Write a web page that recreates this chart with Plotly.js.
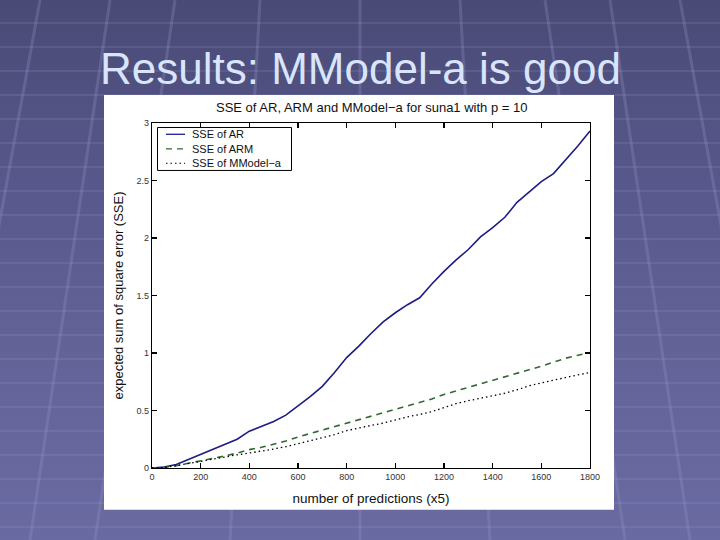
<!DOCTYPE html>
<html>
<head>
<meta charset="utf-8">
<script src="https://cdn.plot.ly/plotly-3.0.1.min.js"></script>
<style>
  html, body { margin: 0; padding: 0; }
  body {
    width: 720px; height: 540px; overflow: hidden;
    background-image:
      url("data:image/svg+xml;utf8,<svg xmlns='http://www.w3.org/2000/svg' width='720' height='540'><g stroke='rgb(150,150,205)' stroke-opacity='0.28' stroke-width='3' fill='none'><line x1='40' y1='0' x2='-20' y2='330'/><line x1='110' y1='0' x2='30' y2='540'/><line x1='175' y1='0' x2='95' y2='540'/><line x1='260' y1='0' x2='230' y2='540'/><line x1='360' y1='0' x2='360' y2='540'/><line x1='460' y1='0' x2='490' y2='540'/><line x1='545' y1='0' x2='625' y2='540'/><line x1='610' y1='0' x2='690' y2='540'/><line x1='680' y1='0' x2='740' y2='330'/></g></svg>"),
      repeating-linear-gradient(to bottom, rgba(255,255,255,0) 0px, rgba(255,255,255,0) 22px, rgba(160,160,215,0.16) 22px, rgba(160,160,215,0.16) 24px),
      linear-gradient(to bottom, #4a4a76 0%, #58588c 35%, #636398 65%, #6a6aa2 100%);
  }
  #chart { width: 720px; height: 540px; }
</style>
</head>
<body>
<div id="chart"></div>
<script>
// x positions (number of predictions, x5)
const predictions = [0,50,100,150,200,250,300,350,400,450,500,550,600,650,700,750,800,850,900,950,1000,1050,1100,1150,1200,1250,1300,1350,1400,1450,1500,1550,1600,1650,1700,1750,1800];
// SSE of AR
const sseAR = [0,0.008,0.03,0.075,0.12,0.16,0.21,0.25,0.32,0.365,0.405,0.46,0.54,0.62,0.71,0.83,0.96,1.06,1.17,1.27,1.35,1.42,1.48,1.60,1.71,1.81,1.90,2.01,2.09,2.18,2.31,2.40,2.49,2.56,2.68,2.80,2.93];
// SSE of ARM
const sseARM = [0,0.005,0.02,0.04,0.06,0.08,0.105,0.13,0.16,0.18,0.205,0.235,0.27,0.30,0.33,0.36,0.385,0.42,0.445,0.475,0.505,0.535,0.565,0.60,0.64,0.67,0.70,0.73,0.76,0.79,0.82,0.85,0.885,0.92,0.955,0.98,1.005];
// SSE of MModel-a
const sseMM = [0,0.005,0.02,0.04,0.06,0.08,0.095,0.115,0.13,0.145,0.165,0.185,0.21,0.24,0.26,0.29,0.325,0.35,0.37,0.39,0.42,0.445,0.465,0.49,0.525,0.56,0.585,0.605,0.625,0.65,0.68,0.715,0.74,0.765,0.79,0.81,0.83];

const xTicks = [0,200,400,600,800,1000,1200,1400,1600,1800];
const yTicks = [0,0.5,1,1.5,2,2.5,3];
const yTickText = ['0','0.5','1','1.5','2','2.5','3'];

const seriesNames = ['SSE of AR', 'SSE of ARM', 'SSE of MModel\u2212a'];
const seriesColors = ['#1c1c84', '#2f6b30', '#000000'];
const seriesDash = ['solid', '6px,5px', '1.5px,3px'];
const seriesWidth = [1.6, 1.6, 1.3];
const seriesY = [sseAR, sseARM, sseMM];

const traces = seriesY.map((ys, i) => ({
  x: predictions, y: ys, name: seriesNames[i], mode: 'lines',
  line: {color: seriesColors[i], width: seriesWidth[i], dash: seriesDash[i]}
}));

const F = 'Liberation Sans, Arial, Helvetica, sans-serif';

// pixel -> paper helpers (plot area: x 152..590, y 123..468.3)
const L = 152, R = 590, T = 123, B = 468.3;
const px = v => (v - L) / (R - L);
const py = v => (B - v) / (B - T);

const shapes = [
  {type: 'rect', xref: 'paper', yref: 'paper', layer: 'below',
   x0: px(104), x1: px(614), y0: py(510), y1: py(95),
   fillcolor: '#ffffff', line: {width: 0}},
  // legend box
  {type: 'rect', xref: 'paper', yref: 'paper', layer: 'above',
   x0: px(157.5), x1: px(291.5), y0: py(170.5), y1: py(127.5),
   fillcolor: '#ffffff', line: {color: '#000', width: 1}}
];
const annotations = [
  {text: 'Results: MModel-a is good', xref: 'paper', yref: 'paper',
   x: px(360), y: py(68), xanchor: 'center', yanchor: 'middle',
   showarrow: false, font: {family: F, size: 44, color: '#d8e5fc'}},
  {text: 'SSE of AR, ARM and MModel\u2212a for suna1 with p = 10', xref: 'paper', yref: 'paper',
   x: px(371), y: py(107), xanchor: 'center', yanchor: 'middle',
   showarrow: false, font: {family: F, size: 13, color: '#111'}}
];
const legendRows = [134.3, 148.8, 163.3];
seriesNames.forEach((nm, i) => {
  shapes.push({type: 'line', xref: 'paper', yref: 'paper', layer: 'above',
    x0: px(166), x1: px(185), y0: py(legendRows[i]), y1: py(legendRows[i]),
    line: {color: seriesColors[i], width: seriesWidth[i] * 0.8, dash: seriesDash[i]}});
  annotations.push({text: nm, xref: 'paper', yref: 'paper',
    x: px(190), y: py(legendRows[i]), xanchor: 'left', yanchor: 'middle',
    showarrow: false, font: {family: F, size: 11, color: '#111'}});
});

const layout = {
  width: 720, height: 540,
  margin: {l: L, r: 720 - R, t: T, b: 540 - B, pad: 0},
  paper_bgcolor: 'rgba(0,0,0,0)',
  plot_bgcolor: '#ffffff',
  showlegend: false,
  font: {family: F, color: '#000'},
  xaxis: {
    range: [0, 1800], tickvals: xTicks, ticktext: xTicks.map(String),
    ticks: 'inside', ticklen: 5, tickwidth: 1.5, tickcolor: '#000',
    showline: true, linecolor: '#000', linewidth: 1.2, mirror: 'ticks',
    showgrid: false, zeroline: false,
    tickfont: {family: F, size: 9, color: '#333'},
    title: {text: 'number of predictions (x5)', font: {family: F, size: 13.5, color: '#111'}, standoff: 12}
  },
  yaxis: {
    range: [0, 3], tickvals: yTicks, ticktext: yTickText,
    ticks: 'inside', ticklen: 5, tickwidth: 1.5, tickcolor: '#000',
    showline: true, linecolor: '#000', linewidth: 1.2, mirror: 'ticks',
    showgrid: false, zeroline: false,
    tickfont: {family: F, size: 9, color: '#333'},
    title: {text: 'expected sum of square error (SSE)', font: {family: F, size: 13, color: '#111'}, standoff: 10}
  },
  shapes: shapes,
  annotations: annotations
};

Plotly.newPlot('chart', traces, layout, {displayModeBar: false, staticPlot: true});
</script>
</body>
</html>
